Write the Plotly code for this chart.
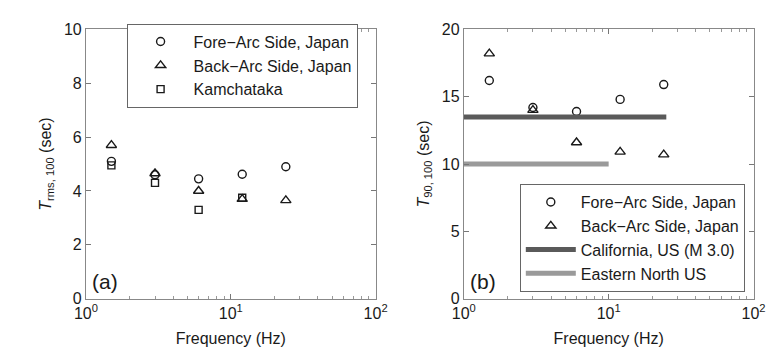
import plotly.graph_objects as go

freq = [1.5, 3, 6, 12, 24]
freq_kam = [1.5, 3, 6, 12]
trms_fore = [5.1, 4.6, 4.45, 4.62, 4.9]
trms_back = [5.7, 4.65, 4.0, 3.7, 3.65]
trms_kam = [4.95, 4.3, 3.3, 3.75]

t90_fore = [16.2, 14.2, 13.9, 14.8, 15.9]
t90_back = [18.2, 14.0, 11.6, 10.9, 10.7]
cal_x = [1, 25]
cal_y = [13.5, 13.5]
enus_x = [1, 10]
enus_y = [10, 10]

major_ticks = [1, 10, 100]
major_text = ["10<sup>0</sup>", "10<sup>1</sup>", "10<sup>2</sup>"]
minor_ticks = [2, 3, 4, 5, 6, 7, 8, 9, 20, 30, 40, 50, 60, 70, 80, 90]

FONT = "Liberation Sans, Arial, sans-serif"
INK = "#1a1a1a"
fig = go.Figure()

def mrk(sym, size):
    return dict(symbol=sym, size=size, color=INK, line=dict(width=1.4, color=INK))

fig.add_trace(go.Scatter(x=freq, y=trms_fore, mode="markers", name="Fore\u2212Arc Side, Japan",
                         marker=mrk("circle-open", 8), xaxis="x", yaxis="y", legend="legend"))
fig.add_trace(go.Scatter(x=freq, y=trms_back, mode="markers", name="Back\u2212Arc Side, Japan",
                         marker=mrk("triangle-up-open", 9), xaxis="x", yaxis="y", legend="legend"))
fig.add_trace(go.Scatter(x=freq_kam, y=trms_kam, mode="markers", name="Kamchataka",
                         marker=mrk("square-open", 7), xaxis="x", yaxis="y", legend="legend"))

fig.add_trace(go.Scatter(x=freq, y=t90_fore, mode="markers", name="Fore\u2212Arc Side, Japan",
                         marker=mrk("circle-open", 8), xaxis="x2", yaxis="y2", legend="legend2"))
fig.add_trace(go.Scatter(x=freq, y=t90_back, mode="markers", name="Back\u2212Arc Side, Japan",
                         marker=mrk("triangle-up-open", 9), xaxis="x2", yaxis="y2", legend="legend2"))
fig.add_trace(go.Scatter(x=cal_x, y=cal_y, mode="lines", name="California, US (M 3.0)",
                         line=dict(color="#5a5a5a", width=5),
                         xaxis="x2", yaxis="y2", legend="legend2"))
fig.add_trace(go.Scatter(x=enus_x, y=enus_y, mode="lines", name="Eastern North US",
                         line=dict(color="#9a9a9a", width=5),
                         xaxis="x2", yaxis="y2", legend="legend2"))

xax = dict(type="log", range=[0, 2], tickmode="array", tickvals=major_ticks, ticktext=major_text,
           ticks="inside", ticklen=5, tickcolor="#777", mirror="allticks",
           showline=True, linecolor="#888", linewidth=1, showgrid=False, zeroline=False,
           minor=dict(tickmode="array", tickvals=minor_ticks, ticks="inside", ticklen=3,
                      tickcolor="#999", showgrid=False),
           tickfont=dict(size=16, color=INK),
           title=dict(text="Frequency (Hz)", font=dict(size=16, color=INK), standoff=11))
yax = dict(ticks="inside", ticklen=5, tickcolor="#777", mirror="allticks",
           showline=True, linecolor="#888", linewidth=1, showgrid=False, zeroline=False,
           tickfont=dict(size=16, color=INK))

fig.update_layout(
    width=774, height=354,
    margin=dict(l=0, r=0, t=0, b=0),
    paper_bgcolor="white", plot_bgcolor="white",
    font=dict(family=FONT, color=INK),
    showlegend=True,
    xaxis=dict(domain=[68/774, 367/774], anchor="y", **xax),
    yaxis=dict(domain=[1-297/354, 1-14/354], anchor="x", range=[0, 10], tickvals=[0, 2, 4, 6, 8, 10],
               title=dict(text="<i>T</i><sub>rms, 100</sub> (sec)", font=dict(size=16, color=INK), standoff=8),
               **yax),
    xaxis2=dict(domain=[458/774, 757/774], anchor="y2", **xax),
    yaxis2=dict(domain=[1-297/354, 1-14/354], anchor="x2", range=[0, 20], tickvals=[0, 5, 10, 15, 20],
                title=dict(text="<i>T</i><sub>90, 100</sub> (sec)", font=dict(size=16, color=INK), standoff=8),
                **yax),
    legend=dict(x=110/774, xanchor="left", y=1-8/354, yanchor="top",
                bgcolor="white", bordercolor="#666", borderwidth=1,
                font=dict(size=16, color=INK), tracegroupgap=0, itemwidth=56),
    legend2=dict(x=748/774, xanchor="right", y=1-290/354, yanchor="bottom",
                 bgcolor="white", bordercolor="#666", borderwidth=1,
                 font=dict(size=16, color=INK), tracegroupgap=0, itemwidth=50),
    annotations=[
        dict(text="(a)", x=72/774, y=1-293/354, xref="paper", yref="paper", xanchor="left", yanchor="bottom",
             showarrow=False, font=dict(size=21, color=INK)),
        dict(text="(b)", x=462/774, y=1-293/354, xref="paper", yref="paper", xanchor="left", yanchor="bottom",
             showarrow=False, font=dict(size=21, color=INK)),
    ],
)

fig.write_html("out.html")
